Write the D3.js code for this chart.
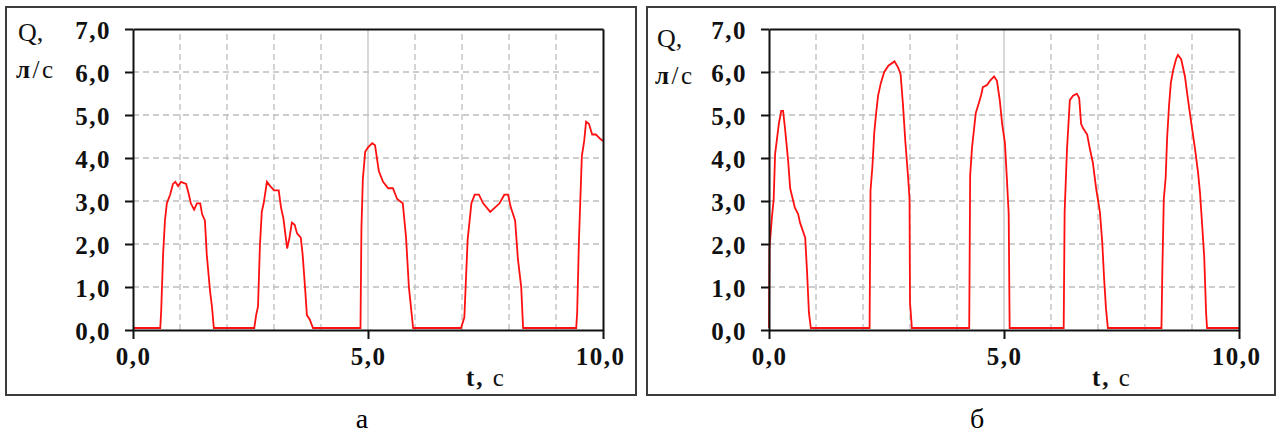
<!DOCTYPE html>
<html>
<head>
<meta charset="utf-8">
<script src="https://cdn.jsdelivr.net/npm/d3@7"></script>
<style>
  html, body { margin: 0; padding: 0; background: #fff; }
  svg { display: block; }
</style>
</head>
<body>
<svg id="chart" width="1277" height="433"></svg>
<script>
// ---------- data ----------
const yTickValues = [0, 1, 2, 3, 4, 5, 6, 7];
const yTickLabels = ["0,0", "1,0", "2,0", "3,0", "4,0", "5,0", "6,0", "7,0"];
const xGridValues = [1, 2, 3, 4, 5, 6, 7, 8, 9];
const xTickValues = [0, 5, 10];
const xTickLabels = ["0,0", "5,0", "10,0"];
const captions = ["а", "б"];
const yTitle1 = "Q,";
const yTitle2 = "л/с";
const xTitle = "t, c";

// panel а
const tA = [0, 0.58, 0.6, 0.64, 0.68, 0.72, 0.79, 0.85, 0.9, 0.96, 1.02, 1.13, 1.19, 1.23, 1.3, 1.36, 1.43, 1.47, 1.53, 1.57, 1.64, 1.68, 1.72,
  2.58, 2.62, 2.66, 2.7, 2.74, 2.78, 2.85, 2.92, 3.0, 3.1, 3.15, 3.2, 3.28, 3.33, 3.38, 3.44, 3.49, 3.57, 3.61, 3.66, 3.7, 3.76, 3.83,
  4.84, 4.86, 4.89, 4.94, 5.0, 5.09, 5.15, 5.23, 5.32, 5.43, 5.53, 5.62, 5.74, 5.81, 5.87, 5.96,
  6.98, 7.05, 7.12, 7.2, 7.27, 7.36, 7.45, 7.6, 7.7, 7.8, 7.9, 7.98, 8.04, 8.13, 8.19, 8.26, 8.3,
  9.43, 9.45, 9.49, 9.55, 9.6, 9.64, 9.7, 9.77, 9.85, 9.94, 10];
const qA = [0, 0, 0.4, 1.7, 2.5, 2.9, 3.1, 3.35, 3.4, 3.3, 3.4, 3.35, 3.1, 2.9, 2.75, 2.9, 2.9, 2.65, 2.5, 1.7, 0.85, 0.5, 0,
  0, 0.3, 0.5, 1.9, 2.7, 2.9, 3.4, 3.3, 3.2, 3.2, 2.8, 2.55, 1.85, 2.1, 2.45, 2.4, 2.2, 2.1, 1.7, 0.95, 0.3, 0.2, 0,
  0, 2.3, 3.45, 4.1, 4.2, 4.3, 4.25, 3.65, 3.4, 3.25, 3.25, 3.0, 2.9, 2.1, 0.95, 0,
  0, 0.25, 2.05, 2.9, 3.1, 3.1, 2.9, 2.7, 2.8, 2.9, 3.1, 3.1, 2.8, 2.5, 1.6, 0.95, 0,
  0, 0.35, 2.1, 4.0, 4.35, 4.8, 4.75, 4.5, 4.5, 4.4, 4.35];

// panel б
const tB = [0, 0.01, 0.06, 0.1, 0.13, 0.17, 0.21, 0.26, 0.3, 0.34, 0.38, 0.41, 0.45, 0.55, 0.62, 0.66, 0.77, 0.81, 0.85, 0.89,
  2.14, 2.16, 2.2, 2.24, 2.28, 2.32, 2.38, 2.45, 2.54, 2.67, 2.75, 2.8, 2.85, 2.9, 2.96, 2.99, 3.0, 3.04,
  4.26, 4.28, 4.32, 4.36, 4.4, 4.47, 4.51, 4.55, 4.64, 4.7, 4.79, 4.85, 4.91, 4.96, 5.02, 5.06, 5.1, 5.12,
  6.27, 6.29, 6.34, 6.38, 6.4, 6.47, 6.55, 6.6, 6.64, 6.68, 6.77, 6.83, 6.89, 6.96, 7.04, 7.09, 7.13, 7.17, 7.21,
  8.35, 8.37, 8.4, 8.44, 8.47, 8.51, 8.55, 8.6, 8.66, 8.7, 8.77, 8.85, 8.91, 9.0, 9.06, 9.13, 9.17, 9.21, 9.26, 9.3, 9.32, 10];
const qB = [0, 1.85, 2.55, 3.0, 4.05, 4.4, 4.75, 5.05, 5.05, 4.65, 4.2, 3.85, 3.25, 2.8, 2.65, 2.45, 2.1, 1.3, 0.35, 0,
  0, 3.2, 3.75, 4.55, 5.0, 5.4, 5.7, 5.95, 6.1, 6.2, 6.05, 5.9, 5.2, 4.35, 3.5, 3.0, 0.6, 0,
  0, 3.55, 4.2, 4.6, 5.0, 5.25, 5.4, 5.6, 5.65, 5.75, 5.85, 5.75, 5.3, 4.75, 4.3, 3.5, 2.65, 0,
  0, 2.7, 4.15, 4.9, 5.3, 5.4, 5.45, 5.35, 4.75, 4.65, 4.5, 4.15, 3.85, 3.25, 2.7, 2.0, 1.15, 0.45, 0,
  0, 1.4, 3.0, 3.5, 4.4, 5.15, 5.7, 6.0, 6.25, 6.35, 6.25, 5.85, 5.35, 4.65, 4.2, 3.6, 3.15, 2.5, 1.65, 0.35, 0, 0];

// ---------- layout ----------
const FONT = "Liberation Serif, Times New Roman, serif";
const panels = [
  { t: tA, q: qA, frame: [6, 7, 630, 388], px: [133, 603], py: [330, 29], cap: 362, xt: 486, q1y: 41, q2y: 78, qx: 16 },
  { t: tB, q: qB, frame: [647, 7, 628, 388], px: [769, 1239], py: [330, 29], cap: 977, xt: 1112, q1y: 47, q2y: 84, qx: 655 }
];

const svg = d3.select("#chart");
svg.append("rect").attr("width", 1277).attr("height", 433).attr("fill", "#fff");

panels.forEach((p, i) => {
  const x = d3.scaleLinear().domain([0, 10]).range(p.px);
  const y = d3.scaleLinear().domain([0, 7]).range(p.py);

  // outer frame
  svg.append("rect")
    .attr("x", p.frame[0]).attr("y", p.frame[1])
    .attr("width", p.frame[2]).attr("height", p.frame[3])
    .attr("fill", "none").attr("stroke", "#3c3c3c").attr("stroke-width", 2);

  // grid
  yTickValues.filter(v => v > 0 && v < 7).forEach(v => {
    svg.append("line").attr("x1", x(0)).attr("x2", x(10)).attr("y1", y(v)).attr("y2", y(v))
      .attr("stroke", "#bdbdbd").attr("stroke-width", 1.3).attr("stroke-dasharray", "6,4");
  });
  xGridValues.forEach(v => {
    const l = svg.append("line").attr("x1", x(v)).attr("x2", x(v)).attr("y1", y(0)).attr("y2", y(7))
      .attr("stroke", v === 5 ? "#c4c4c4" : "#bdbdbd").attr("stroke-width", 1.3);
    if (v !== 5) l.attr("stroke-dasharray", "6,4");
  });

  // data line (drawn slightly above the axis like the original)
  const pts = p.t.map((t, k) => [t, p.q[k]]);
  svg.append("path").datum(pts)
    .attr("transform", "translate(0,-2)")
    .attr("d", d3.line().x(d => x(d[0])).y(d => y(d[1])))
    .attr("fill", "none").attr("stroke", "#ff1010").attr("stroke-width", 1.8);

  // d3 axes with their domain lines
  const ya = svg.append("g").attr("transform", `translate(${x(0)},0)`)
    .call(d3.axisLeft(y).tickValues(yTickValues).tickSize(8).tickSizeOuter(0)
      .tickFormat((d, k) => yTickLabels[k]).tickPadding(14));
  const xa = svg.append("g").attr("transform", `translate(0,${y(0)})`)
    .call(d3.axisBottom(x).tickValues(xTickValues).tickSize(9).tickSizeOuter(0)
      .tickFormat((d, k) => xTickLabels[k]).tickPadding(8));
  // top & right frame as mirrored axes
  const ta = svg.append("g").attr("transform", `translate(0,${y(7)})`)
    .call(d3.axisTop(x).tickValues([]).tickSizeOuter(0));
  const ra = svg.append("g").attr("transform", `translate(${x(10)},0)`)
    .call(d3.axisRight(y).tickValues([]).tickSizeOuter(0));
  [ya, xa, ta, ra].forEach(a => {
    a.attr("color", "#111");
    a.select(".domain").attr("stroke", "#111").attr("stroke-width", 2);
    a.selectAll(".tick line").attr("stroke", "#111").attr("stroke-width", 2);
    a.selectAll("text").attr("font-family", FONT).attr("font-size", 25)
      .attr("font-weight", "bold").attr("fill", "#111").attr("letter-spacing", 1.5);
  });
  ya.selectAll("text").attr("dy", "0.36em");
  xa.selectAll(".tick").filter(d => d === 10).select("text").attr("dx", -3);

  // axis titles
  svg.append("text").attr("x", p.qx + 2).attr("y", p.q1y).attr("font-family", FONT)
    .attr("font-size", 26).attr("fill", "#111").text(yTitle1);
  const t2 = svg.append("text").attr("x", p.qx).attr("y", p.q2y).attr("font-family", FONT)
    .attr("font-size", 25).attr("fill", "#111").attr("letter-spacing", 2.5);
  t2.append("tspan").attr("font-weight", "bold").text(yTitle2.slice(0, 1));
  t2.append("tspan").text(yTitle2.slice(1));
  const xt = svg.append("text").attr("x", p.xt).attr("y", 386).attr("text-anchor", "middle")
    .attr("font-family", FONT).attr("font-size", 25).attr("fill", "#111").attr("letter-spacing", 2);
  xt.append("tspan").attr("font-weight", "bold").text(xTitle.slice(0, 2));
  xt.append("tspan").text(xTitle.slice(2));

  // caption
  svg.append("text").attr("x", p.cap).attr("y", 428).attr("text-anchor", "middle")
    .attr("font-family", FONT).attr("font-size", 28).attr("fill", "#000").text(captions[i]);
});
</script>
</body>
</html>
